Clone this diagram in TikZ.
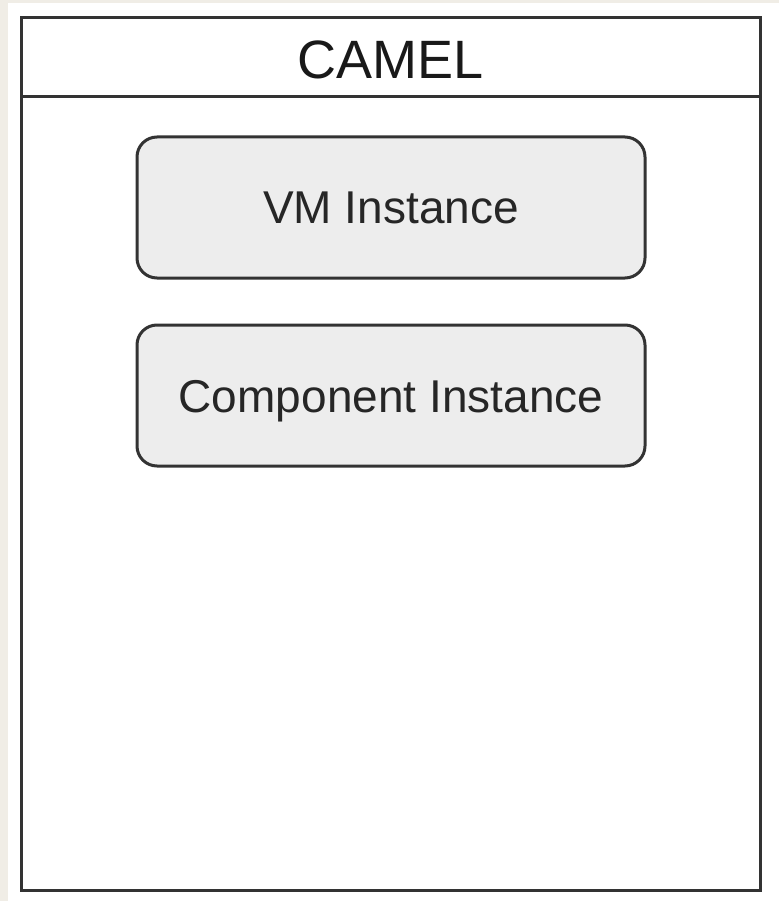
\documentclass[tikz,border=0pt]{standalone}
\usepackage{fontspec}
\setmainfont{Liberation Sans}
\definecolor{margin}{RGB}{240,237,230}
\begin{document}
\begin{tikzpicture}[x=1pt,y=-1pt,
  frame/.style={draw=black!80, line width=3pt},
  instbox/.style={draw=black!80, line width=3pt, fill=black!7, rounded corners=20pt,
    minimum width=508pt, minimum height=141pt, inner sep=0pt,
    text height=33pt, text depth=0pt,
    font=\fontsize{46}{50}\selectfont, text=black!85},
  title/.style={font=\fontsize{54}{58}\selectfont, text=black!90}]
  % page and textured margin
  \fill[white] (0,0) rectangle (779,901);
  \fill[margin] (0,0) rectangle (8,901);
  \fill[margin] (0,0) rectangle (779,3);
  \useasboundingbox (0,0) rectangle (779,901);
  % outer container with title compartment
  \draw[frame] (21,18) rectangle (760,890);
  \draw[frame] (21,97) -- (760,97);
  \node[title] (camel) at (390.5,60) {CAMEL};
  % contained instances
  \node[instbox] (vm) at (391,207.5) {VM Instance};
  \node[instbox] (comp) at (391,395.5) {Component Instance};
\end{tikzpicture}
\end{document}
